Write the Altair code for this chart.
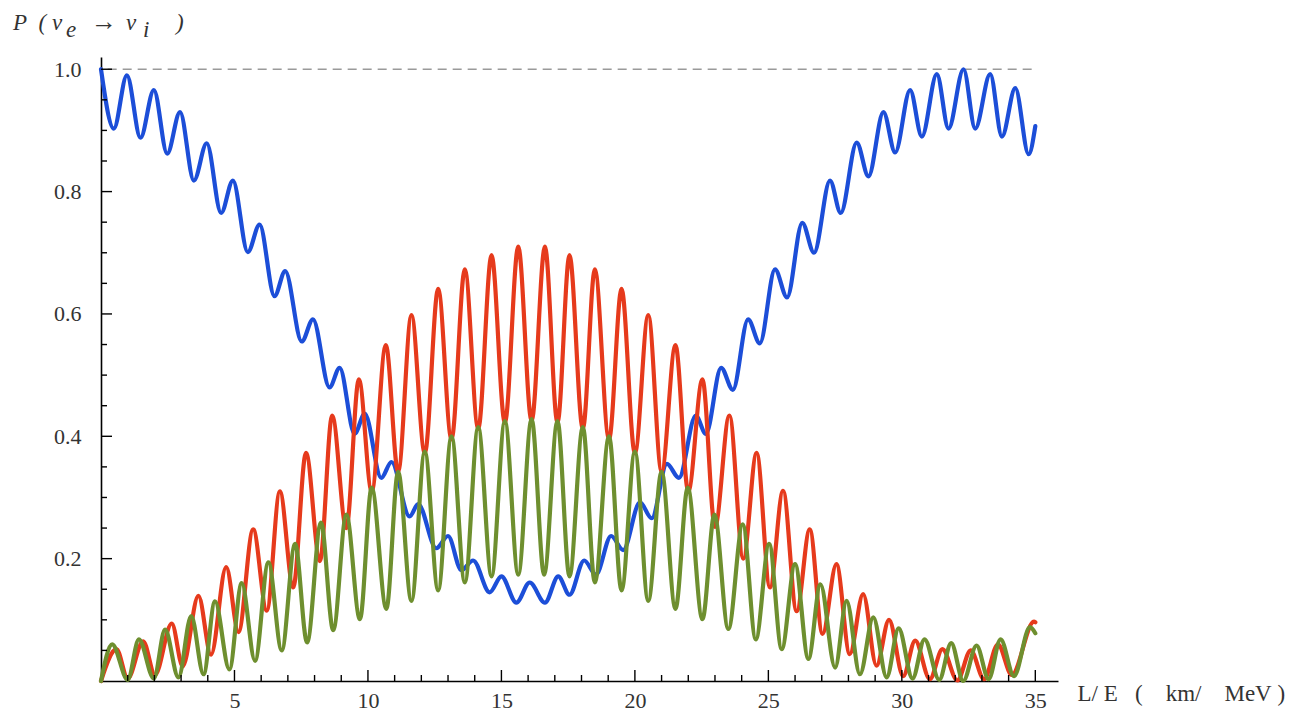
import altair as alt
import pandas as pd

# ---- data (local extrema of each curve) ----
blue_x = [0.0, 0.48, 0.97, 1.48, 1.98, 2.48, 2.96, 3.48, 3.96, 4.50, 4.94, 5.50, 5.94, 6.50, 6.90,
          7.52, 7.94, 8.56, 8.94, 9.50, 9.88, 10.50, 10.88, 11.56, 11.88, 12.56, 13.00, 13.50, 13.94,
          14.56, 15.00, 15.56, 16.06, 16.63, 17.13, 17.55, 18.10, 18.54, 19.11, 19.56, 20.19, 20.63,
          21.20, 21.65, 22.28, 22.66, 23.23, 23.67, 24.24, 24.68, 25.25, 25.70, 26.27, 26.71, 27.31,
          27.71, 28.31, 28.75, 29.31, 29.75, 30.31, 30.75, 31.31, 31.75, 32.31, 32.75, 33.31, 33.75,
          34.25, 34.75, 35.0]
blue_y = [1.0, 0.903, 0.990, 0.888, 0.966, 0.862, 0.930, 0.818, 0.879, 0.765, 0.818, 0.701, 0.746,
          0.629, 0.670, 0.555, 0.591, 0.480, 0.512, 0.404, 0.437, 0.332, 0.358, 0.269, 0.289, 0.217,
          0.237, 0.181, 0.197, 0.145, 0.171, 0.128, 0.161, 0.128, 0.171, 0.141, 0.197, 0.174, 0.237,
          0.214, 0.292, 0.266, 0.355, 0.332, 0.434, 0.404, 0.512, 0.476, 0.591, 0.552, 0.673, 0.627,
          0.749, 0.700, 0.818, 0.765, 0.880, 0.825, 0.930, 0.864, 0.966, 0.890, 0.992, 0.903, 1.0,
          0.903, 0.992, 0.890, 0.969, 0.861, 0.907]

red_x = [0.0, 0.58, 1.0, 1.58, 2.02, 2.65, 3.06, 3.65, 4.12, 4.69, 5.15, 5.70, 6.21, 6.70, 7.20, 7.68,
         8.20, 8.66, 9.19, 9.66, 10.14, 10.67, 11.13, 11.63, 12.13, 12.63, 13.13, 13.63, 14.13, 14.63,
         15.13, 15.63, 16.13, 16.63, 17.10, 17.55, 18.05, 18.50, 19.03, 19.50, 20.00, 20.50, 21.00,
         21.52, 22.00, 22.53, 23.00, 23.54, 24.06, 24.56, 25.06, 25.55, 26.06, 26.55, 27.03, 27.55,
         28.05, 28.55, 29.05, 29.52, 30.05, 30.50, 31.05, 31.52, 32.08, 32.58, 33.08, 33.60, 34.12,
         34.95, 35.0]
red_y = [0.0, 0.052, 0.004, 0.065, 0.010, 0.094, 0.024, 0.139, 0.043, 0.186, 0.080, 0.248, 0.115,
         0.310, 0.153, 0.373, 0.196, 0.434, 0.250, 0.493, 0.310, 0.549, 0.342, 0.598, 0.372, 0.641,
         0.395, 0.673, 0.412, 0.696, 0.422, 0.710, 0.425, 0.710, 0.422, 0.696, 0.412, 0.673, 0.395,
         0.641, 0.372, 0.598, 0.342, 0.549, 0.310, 0.493, 0.252, 0.434, 0.200, 0.373, 0.153, 0.311,
         0.114, 0.248, 0.077, 0.191, 0.044, 0.142, 0.025, 0.100, 0.008, 0.066, 0.003, 0.052, 0.001,
         0.050, 0.003, 0.060, 0.010, 0.097, 0.096]

green_x = [0.0, 0.42, 1.0, 1.42, 1.98, 2.40, 2.90, 3.38, 3.84, 4.27, 4.81, 5.27, 5.77, 6.27, 6.77,
           7.27, 7.72, 8.24, 8.70, 9.19, 9.70, 10.14, 10.69, 11.13, 11.63, 12.13, 12.63, 13.13, 13.63,
           14.13, 14.63, 15.13, 15.63, 16.13, 16.60, 17.10, 17.55, 18.05, 18.50, 19.03, 19.50, 20.00,
           20.50, 21.00, 21.52, 21.98, 22.53, 22.98, 23.50, 24.04, 24.53, 25.03, 25.50, 26.00, 26.50,
           26.95, 27.50, 27.93, 28.43, 28.93, 29.43, 29.88, 30.40, 30.85, 31.40, 31.85, 32.30, 32.80,
           33.25, 33.70, 34.20, 34.80, 35.0]
green_y = [0.0, 0.060, 0.002, 0.068, 0.004, 0.084, 0.006, 0.106, 0.011, 0.130, 0.019, 0.160, 0.033,
           0.194, 0.050, 0.224, 0.063, 0.259, 0.083, 0.272, 0.101, 0.316, 0.118, 0.342, 0.131, 0.375,
           0.148, 0.400, 0.161, 0.415, 0.171, 0.425, 0.174, 0.428, 0.174, 0.425, 0.171, 0.415, 0.161,
           0.400, 0.148, 0.375, 0.131, 0.342, 0.118, 0.316, 0.101, 0.272, 0.085, 0.256, 0.068, 0.224,
           0.052, 0.191, 0.036, 0.158, 0.022, 0.131, 0.011, 0.104, 0.006, 0.086, 0.004, 0.068, 0.002,
           0.062, 0.000, 0.058, 0.003, 0.068, 0.008, 0.088, 0.078]

x_major = [5, 10, 15, 20, 25, 30, 35]
x_minor = [1, 2, 3, 4, 6, 7, 8, 9, 11, 12, 13, 14, 16, 17, 18, 19, 21, 22, 23, 24,
           26, 27, 28, 29, 31, 32, 33, 34]
y_major = [0.2, 0.4, 0.6, 0.8, 1.0]
y_minor = [0.05, 0.1, 0.15, 0.25, 0.3, 0.35, 0.45, 0.5, 0.55, 0.65, 0.7, 0.75, 0.85, 0.9, 0.95]
ref_level = [1.0]

# ---- styling ----
W, H = 957, 624
FONT = "Liberation Serif"
TXT = "#333333"
BLUE, RED, GREEN = "#1c4ed8", "#e63a1c", "#6e8f2f"
NB = "\u00a0"

xscale = alt.Scale(domain=[0, 35.85], nice=False, zero=False)
yscale = alt.Scale(domain=[0, 1.02], nice=False, zero=False)

x_title = "L/ E" + NB * 3 + "(" + NB * 4 + "km/" + NB * 4 + "MeV" + NB + ")"

xaxis = alt.Axis(values=x_major, ticks=False, tickSize=0, grid=False, domainColor="black",
                 domainWidth=1.6, labelFont=FONT, labelFontSize=22, labelColor=TXT,
                 labelBaseline="alphabetic", labelPadding=26, labelFlush=False,
                 labelOverlap=False,
                 title=x_title, titleX=976, titleY=19, titleAlign="left",
                 titleBaseline="alphabetic", titleAngle=0, titleFont=FONT, titleFontSize=23,
                 titleFontWeight="normal", titleColor=TXT)
yaxis = alt.Axis(values=y_major, format=".1f", ticks=False, tickSize=0, grid=False,
                 domainColor="black", domainWidth=1.6, labelFont=FONT, labelFontSize=22,
                 labelColor=TXT, labelPadding=20, labelFlush=False, labelOverlap=False, title="")


def X(field):
    return alt.X(field, scale=xscale, axis=xaxis)


def Y(field):
    return alt.Y(field, scale=yscale, axis=yaxis)


def curve(xs, ys, color):
    df = pd.DataFrame({"x": xs, "y": ys})
    return alt.Chart(df).mark_line(color=color, strokeWidth=4.2, interpolate="monotone",
                                   strokeJoin="round", strokeCap="round").encode(
        x=X("x:Q"), y=Y("y:Q"))


dash = alt.Chart(pd.DataFrame({"y": ref_level})).mark_rule(
    color="#9a9a9a", strokeWidth=1.4, strokeDash=[9, 6]
).encode(y=Y("y:Q"), x=alt.datum(0.25), x2=alt.datum(35.0))


def xticks(vals, length):
    return alt.Chart(pd.DataFrame({"x": vals})).mark_rule(color="black", strokeWidth=1.4).encode(
        x=X("x:Q"), y=alt.value(H), y2=alt.value(H - length))


def yticks(vals, length):
    return alt.Chart(pd.DataFrame({"y": vals})).mark_rule(color="black", strokeWidth=1.4).encode(
        y=Y("y:Q"), x=alt.value(0), x2=alt.value(length))


def label(text, x, y, size=23, style="italic"):
    return alt.Chart(pd.DataFrame({"a": [0]})).mark_text(
        text=text, font=FONT, fontSize=size, fontStyle=style, color=TXT,
        align="left", baseline="alphabetic"
    ).encode(x=alt.value(x), y=alt.value(y))


title_parts = [
    label("P" + NB * 2 + "(" + NB + "\u03bd", -88, -27),
    label("e", -35, -20),
    label("\u2192", -10, -27, size=26, style="normal"),
    label("\u03bd", 25, -27),
    label("i", 42, -20),
    label(")", 75, -27),
]

chart = alt.layer(
    dash,
    curve(blue_x, blue_y, BLUE),
    curve(red_x, red_y, RED),
    curve(green_x, green_y, GREEN),
    xticks(x_major, 11), xticks(x_minor, 6),
    yticks(y_major, 11), yticks(y_minor, 6),
    *title_parts,
).properties(
    width=W, height=H,
    autosize=alt.AutoSizeParams(type="none"),
    padding={"left": 93, "top": 49, "right": 240, "bottom": 32},
    background="white",
).configure_view(stroke=None)

chart.save("out.html", embed_options={"renderer": "svg", "actions": False})
